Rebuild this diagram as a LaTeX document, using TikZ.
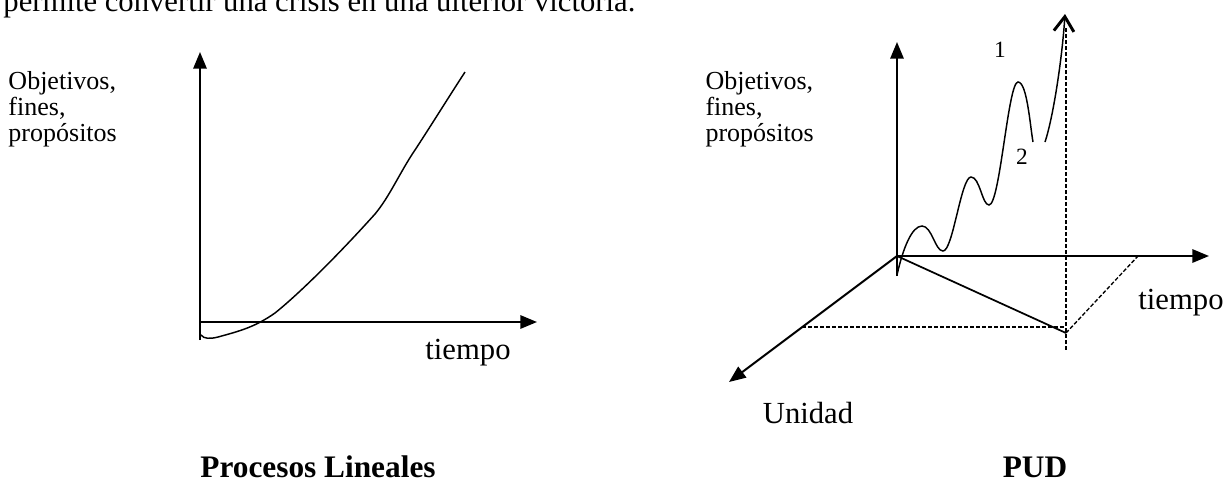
\documentclass[tikz,border=0pt]{standalone}
\usepackage{fontspec}
\setmainfont{Liberation Serif}
\usetikzlibrary{arrows.meta}

\tikzset{every picture/.style={line width=0.75pt}}
\tikzset{
  axisline/.style={line width=1.5pt,-{Triangle[length=12.5pt,width=10pt]}},
  waveline/.style={line width=1.1pt},
  guideline/.style={line width=1pt,dash pattern=on 3pt off 1.5pt},
  axislbl/.style={font=\fontsize{23}{27}\selectfont},
  goallbl/.style={font=\fontsize{19.5}{19.3}\selectfont,align=left,anchor=north west,inner sep=0pt},
  peaklbl/.style={font=\fontsize{17.5}{20}\selectfont},
  titlelbl/.style={font=\fontsize{23.5}{27}\selectfont\bfseries},
}

\begin{document}
\begin{tikzpicture}[x=0.75pt,y=0.75pt,yscale=-1]
\useasboundingbox (0,0) rectangle (1230,487);

% Text Node (line cut by the page edge)
\node [anchor=base west,inner sep=0pt,font=\fontsize{23}{27}\selectfont] (intro) at (3,11) {permite convertir una crisis en una ulterior victoria.};

%%% left: linear process
\coordinate (lo) at (200,322);
\coordinate (lbot) at (200,340);
\coordinate (ltop) at (200,52);
\coordinate (lright) at (537,322);
%Straight Lines (axes)
\draw [axisline] (lbot) -- (ltop);
\draw [axisline] (lo.center) -- (lright);
%Curve Lines
\draw [waveline] (201,335) .. controls (204,339) and (210,339) .. (218,337) .. controls (240,331) and (255,327) .. (275,313) .. controls (300,293) and (340,253) .. (375,214) .. controls (390,196) and (400,172) .. (415,150) .. controls (432,124) and (450,95) .. (465,72) ;

% Text Node
\node [goallbl] (lgoal) at (8,71) {Objetivos,\\fines,\\propósitos};
% Text Node
\node [axislbl] (ltime) at (468,353) {tiempo};
% Text Node
\node [titlelbl] (ltitle) at (318,467) {Procesos Lineales};

%%% right: PUD
\coordinate (ro) at (897,256);
\coordinate (rbot) at (897,276);
\coordinate (rtop) at (897,42);
\coordinate (rright) at (1209,256);
\coordinate (runit) at (729,382);
\coordinate (corner) at (1066,333);
\coordinate (tfar) at (1138,256);
\coordinate (ufar) at (802,327);
\coordinate (vmid) at (1066,327);
\coordinate (vtop) at (1066,28);
\coordinate (vbot) at (1066,352);
%Straight Lines (axes)
\draw [axisline] (rbot) -- (rtop);
\draw [axisline] (ro) -- (rright);
\draw [axisline] (ro) -- (runit);
%Straight Lines
\draw [line width=1.3pt] (ro) -- (corner);
%Dashed Lines
\draw [guideline] (ufar) -- (vmid);
\draw [guideline] (vtop) -- (vbot);
\draw [guideline] (corner) -- (tfar);
%Curve Lines
\draw [waveline] (897,275) .. controls (903,248) and (912,226) .. (922,226) .. controls (932,226) and (935,251) .. (943,251) .. controls (953,251) and (961,177) .. (971,177) .. controls (980,177) and (982,205) .. (989,205) .. controls (1000,205) and (1008,82) .. (1018,82) .. controls (1027,82) and (1030,125) .. (1033,142) ;
\draw [waveline,-{Straight Barb[length=11pt,width=15pt,line width=2.2pt]}] (1045,142) .. controls (1053,118) and (1062,60) .. (1065,14) ;

% Text Node
\node [goallbl] (rgoal) at (705,71) {Objetivos,\\fines,\\propósitos};
% Text Node
\node [peaklbl] (one) at (1000,50) {1};
% Text Node
\node [peaklbl] (two) at (1022,157) {2};
% Text Node
\node [axislbl] (rtime) at (1181,303) {tiempo};
% Text Node
\node [axislbl] (unit) at (808,413) {Unidad};
% Text Node
\node [titlelbl] (rtitle) at (1035,467) {PUD};

\end{tikzpicture}
\end{document}
